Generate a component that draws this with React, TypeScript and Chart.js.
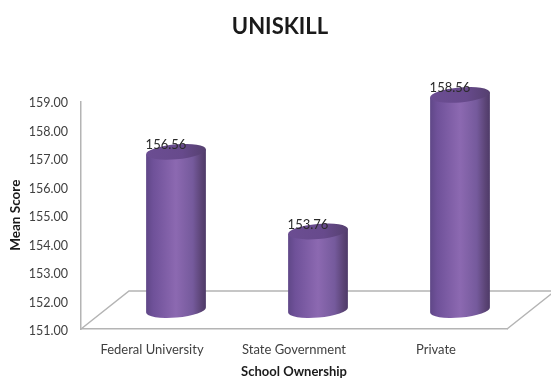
import React, { useEffect, useRef } from "react";
import { Chart, registerables } from "chart.js";

Chart.register(...registerables);

const categories = ["Federal University", "State Government", "Private"];
const meanScores = [156.56, 153.76, 158.56];
const valueLabels = ["156.56", "153.76", "158.56"];
const chartTitle = "UNISKILL";
const yAxisTitle = "Mean Score";
const xAxisTitle = "School Ownership";

const FONT = "Lato, 'Open Sans', sans-serif";
const FLOOR_DX = 48;
const FLOOR_DY = 38;
const FLOOR_COLOR = "#b4b4b4";
const TILT = (-5 * Math.PI) / 180;
const RY = 7.5;

// Draws the receding floor, then replaces the flat bars with cylinders.
const cylinderPlugin = {
  id: "cylinders",
  afterLayout(chart: any) {
    chart.titleBlock.left = 9;
    chart.titleBlock.right = 551;
  },
  beforeDraw(chart: any) {
    // Lato sits high on its middle baseline, so nudge the value-axis labels down.
    chart.scales.y.getLabelItems(chart.chartArea).forEach((item: any) => {
      item.textOffset = 2;
    });
  },
  beforeDatasetsDraw(chart: any) {
    const { ctx, chartArea, scales } = chart;
    const { left, right, bottom } = chartArea;
    ctx.save();
    ctx.strokeStyle = FLOOR_COLOR;
    ctx.lineWidth = 1.5;
    ctx.beginPath();
    ctx.moveTo(left, bottom);
    ctx.lineTo(left + FLOOR_DX, bottom - FLOOR_DY);
    ctx.lineTo(right + FLOOR_DX, bottom - FLOOR_DY);
    ctx.lineTo(right, bottom);
    ctx.stroke();
    ctx.restore();

    const baseline = scales.y.getPixelForValue(scales.y.min);
    const meta = chart.getDatasetMeta(0);
    meta.data.forEach((bar: any, i: number) => {
      const cx = bar.x + FLOOR_DX / 2;
      const topY = bar.y - FLOOR_DY / 2;
      const baseY = baseline - FLOOR_DY / 2;
      const rx = bar.width / 2;
      const ox = rx * Math.cos(TILT);
      const oy = rx * Math.sin(TILT);

      const side = ctx.createLinearGradient(cx - rx, 0, cx + rx, 0);
      side.addColorStop(0, "#5f4787");
      side.addColorStop(0.12, "#6f5199");
      side.addColorStop(0.5, "#8c69b1");
      side.addColorStop(0.78, "#755a9c");
      side.addColorStop(0.93, "#5a4374");
      side.addColorStop(1, "#4e3a68");

      ctx.save();
      ctx.fillStyle = side;
      ctx.beginPath();
      ctx.moveTo(cx - ox, topY - oy);
      ctx.lineTo(cx - ox, baseY - oy);
      ctx.ellipse(cx, baseY, rx, RY, TILT, Math.PI, 0, true);
      ctx.lineTo(cx + ox, topY + oy);
      ctx.closePath();
      ctx.fill();

      const cap = ctx.createLinearGradient(cx - rx, 0, cx + rx, 0);
      cap.addColorStop(0, "#6b4d92");
      cap.addColorStop(0.6, "#674a8c");
      cap.addColorStop(1, "#55406f");
      ctx.fillStyle = cap;
      ctx.beginPath();
      ctx.ellipse(cx, topY, rx, RY, TILT, 0, Math.PI * 2);
      ctx.fill();

      ctx.fillStyle = "#2b2b2b";
      ctx.font = `13px ${FONT}`;
      ctx.textAlign = "center";
      ctx.textBaseline = "middle";
      ctx.fillText(valueLabels[i], cx - 10, topY - 7);
      ctx.restore();
    });
    return false;
  },
};

export default function App() {
  const ref = useRef<HTMLCanvasElement | null>(null);

  useEffect(() => {
    const chart = new Chart(ref.current as HTMLCanvasElement, {
      type: "bar",
      data: {
        labels: categories,
        datasets: [
          {
            label: yAxisTitle,
            data: meanScores,
            backgroundColor: "#8c69b1",
            barThickness: 60,
          },
        ],
      },
      options: {
        responsive: false,
        animation: false,
        layout: { padding: { top: 14, right: 44, left: 0, bottom: 0 } },
        plugins: {
          legend: { display: false },
          tooltip: { enabled: false },
          title: {
            display: true,
            text: chartTitle,
            color: "#1a1a1a",
            font: { family: FONT, size: 22, weight: "bold" },
            padding: { top: 0, bottom: 61 },
          },
        },
        scales: {
          x: {
            grid: { display: false, drawTicks: false },
            border: { color: FLOOR_COLOR, width: 1.5 },
            ticks: {
              color: "#404040",
              font: { family: FONT, size: 13 },
              padding: 13,
            },
            title: {
              display: true,
              text: xAxisTitle,
              color: "#1a1a1a",
              font: { family: FONT, size: 13, weight: "bold" },
              padding: { top: 4, bottom: 0 },
            },
            afterFit: (scale: any) => {
              scale.height = 51;
            },
          },
          y: {
            min: 151,
            max: 159,
            grid: { display: false, drawTicks: false },
            border: { color: FLOOR_COLOR, width: 1.5 },
            ticks: {
              stepSize: 1,
              color: "#404040",
              font: { family: FONT, size: 12.5 },
              padding: 13,
              callback: (v: any) => Number(v).toFixed(2),
            },
            title: {
              display: true,
              text: yAxisTitle,
              color: "#1a1a1a",
              font: { family: FONT, size: 13.5, weight: "bold" },
              padding: { top: 8, bottom: 0 },
            },
            afterFit: (scale: any) => {
              scale.width = 81;
            },
          },
        },
      },
      plugins: [cylinderPlugin],
    } as any);
    return () => chart.destroy();
  }, []);

  return (
    <div style={{ position: "fixed", left: 0, top: 0, width: 551, height: 380, background: "#fff" }}>
      <canvas ref={ref} width={551} height={380} style={{ display: "block" }} />
    </div>
  );
}
